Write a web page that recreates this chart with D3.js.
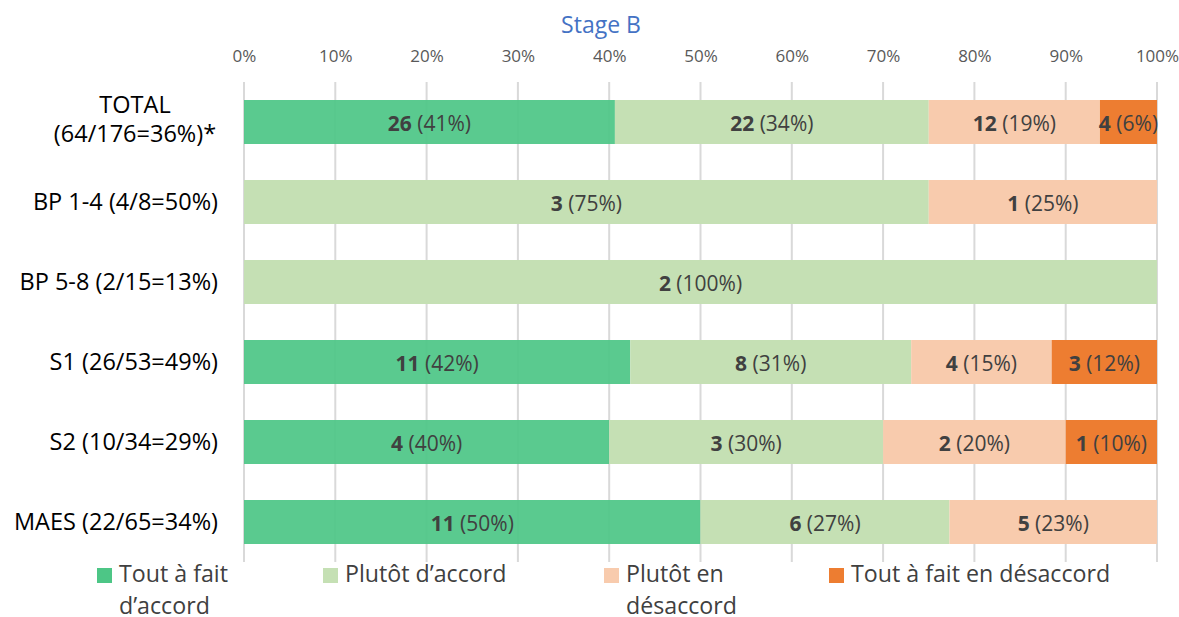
<!DOCTYPE html>
<meta charset="utf-8">
<style>
body { margin: 0; background: #fff; font-family: "Open Sans", sans-serif; }
.axis .domain { display: none; }
.axis line { display: none; }
</style>
<body>
<svg width="1179" height="617"></svg>
<script src="https://cdn.jsdelivr.net/npm/d3@7/dist/d3.min.js"></script>
<script>
// data
var groups = ["TOTAL (64/176=36%)*", "BP 1-4 (4/8=50%)", "BP 5-8 (2/15=13%)", "S1 (26/53=49%)", "S2 (10/34=29%)", "MAES (22/65=34%)"];
var keys = ["Tout à fait d’accord", "Plutôt d’accord", "Plutôt en désaccord", "Tout à fait en désaccord"];
var toutAccord   = [26, 0, 0, 11, 4, 11];
var plutotAccord = [22, 3, 2, 8, 3, 6];
var plutotDesacc = [12, 1, 0, 4, 2, 5];
var toutDesacc   = [4, 0, 0, 3, 1, 0];
var ticks = [0, 0.1, 0.2, 0.3, 0.4, 0.5, 0.6, 0.7, 0.8, 0.9, 1];
var colors = ["#4dc686", "#c5e0b4", "#f8cbad", "#ed7d31"];

var series = [toutAccord, plutotAccord, plutotDesacc, toutDesacc];
var data = groups.map(function(g, i) {
  var d = {group: g, total: 0};
  keys.forEach(function(k, j) { d[k] = series[j][i]; d.total += series[j][i]; });
  return d;
});

var svg = d3.select("svg"),
    margin = {top: 82, left: 244},
    g = svg.append("g").attr("transform", "translate(" + margin.left + "," + margin.top + ")");

var x = d3.scaleLinear().domain([0, 1]).range([0, 913]);
var y = d3.scaleBand().domain(groups).range([0, 480]).paddingInner(0.45).paddingOuter(0.225);
var z = d3.scaleOrdinal().domain(keys).range(colors);

svg.append("text")
    .attr("x", 601).attr("y", 33)
    .attr("text-anchor", "middle")
    .attr("font-size", 23)
    .attr("fill", "#4472c4")
    .text("Stage B");

// grid
g.append("g").selectAll("line")
  .data(ticks).enter().append("line")
    .attr("x1", function(d) { return x(d); })
    .attr("x2", function(d) { return x(d); })
    .attr("y1", 0).attr("y2", 480)
    .attr("stroke", "#d9d9d9").attr("stroke-width", 2);

g.append("g")
    .attr("class", "axis")
    .attr("transform", "translate(0,-20)")
    .call(d3.axisTop(x).tickValues(ticks).tickFormat(d3.format(".0%")).tickSize(0).tickPadding(0))
    .selectAll("text")
      .attr("font-family", "'Open Sans', sans-serif")
      .attr("font-size", 17)
      .attr("fill", "#595959");

var stack = d3.stack().keys(keys).offset(d3.stackOffsetExpand)(data);

var layer = g.append("g").selectAll("g")
  .data(stack).enter().append("g")
    .attr("fill", function(d) { return z(d.key); })
    .attr("fill-opacity", function(d, i) { return i === 0 ? 0.93 : 1; });

layer.selectAll("rect")
  .data(function(d) { return d; })
  .enter().append("rect")
    .attr("x", function(d) { return x(d[0]); })
    .attr("y", function(d) { return y(d.data.group); })
    .attr("width", function(d) { return x(d[1]) - x(d[0]); })
    .attr("height", y.bandwidth());

var lab = g.append("g").selectAll("g")
  .data(stack).enter().append("g")
  .selectAll("text")
  .data(function(d) { return d.map(function(s) { s.key = d.key; return s; }).filter(function(s) { return s.data[d.key] > 0; }); })
  .enter().append("text")
    .attr("x", function(d) { return x((d[0] + d[1]) / 2); })
    .attr("y", function(d) { return y(d.data.group) + y.bandwidth() / 2; })
    .attr("dy", "0.42em")
    .attr("text-anchor", "middle")
    .attr("font-size", 21)
    .attr("fill", "#404040");
lab.append("tspan").attr("font-weight", "bold").text(function(d) { return d.data[d.key]; });
lab.append("tspan").text(function(d) { return " (" + Math.round(d.data[d.key] / d.data.total * 100) + "%)"; });

// category labels
var cat = g.append("g").selectAll("text")
  .data(groups).enter().append("text")
    .attr("font-size", 23.5)
    .attr("fill", "#000")
    .attr("y", function(d) { return y(d) + y.bandwidth() / 2; })
    .attr("dy", "0.36em")
    .attr("x", -26)
    .attr("text-anchor", "end")
    .text(function(d, i) { return i === 0 ? null : d; });
cat.filter(function(d, i) { return i === 0; }).each(function(d) {
  var cy = y(d) + y.bandwidth() / 2;
  var t = d3.select(this).attr("x", -109).attr("text-anchor", "middle").attr("dy", null);
  var parts = d.split(" ");
  t.append("tspan").attr("x", -109).attr("y", cy - 9).text(parts[0]);
  t.append("tspan").attr("x", -109).attr("y", cy + 20).text(parts[1]);
});

// legend
var legX = [97, 323, 604, 829];
var legLines = [["Tout à fait", "d’accord"], ["Plutôt d’accord"], ["Plutôt en", "désaccord"], ["Tout à fait en désaccord"]];
var legend = svg.append("g").selectAll("g")
  .data(keys).enter().append("g")
    .attr("transform", function(d, i) { return "translate(" + legX[i] + ",568)"; });
legend.append("rect")
    .attr("width", 15).attr("height", 15)
    .attr("fill", z);
legend.append("text")
    .attr("font-size", 23.2)
    .attr("fill", "#404040")
    .each(function(d, i) {
      var t = d3.select(this);
      legLines[i].forEach(function(s, j) {
        t.append("tspan").attr("x", 22).attr("y", 14 + j * 32).text(s);
      });
    });
</script>
</body>
